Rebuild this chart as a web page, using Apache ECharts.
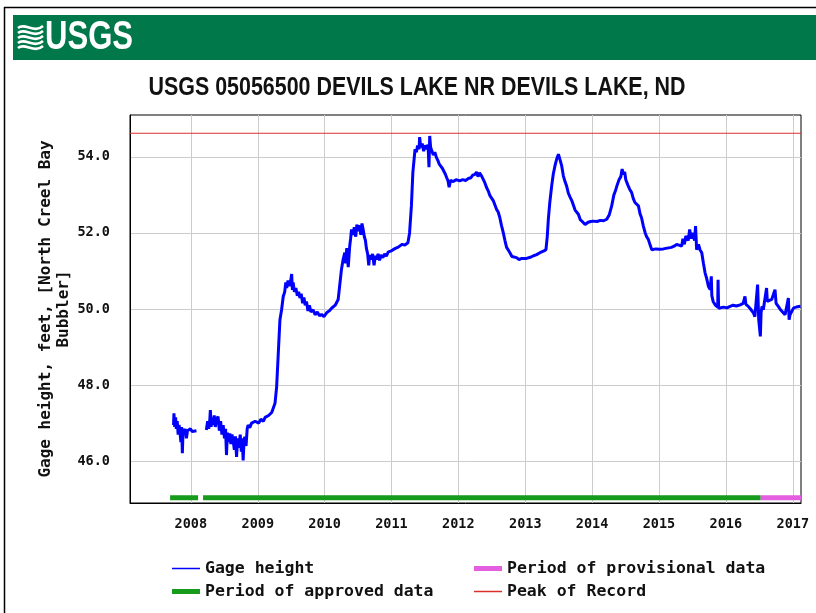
<!DOCTYPE html>
<html>
<head>
<meta charset="utf-8">
<title>USGS 05056500 Devils Lake</title>
<script src="https://cdn.jsdelivr.net/npm/echarts@6/dist/echarts.min.js"></script>
<style>
  html, body { margin: 0; padding: 0; background: #ffffff; }
  #chart { width: 816px; height: 613px; }
</style>
</head>
<body>
<div id="chart"></div>
<script>
// Gage height record, feet (null marks the gap in the record)
const gageDates = [
  '2007-09-29','2007-10-01','2007-10-05','2007-10-10','2007-10-14','2007-10-19','2007-10-24','2007-10-29',
  '2007-11-03','2007-11-08','2007-11-12','2007-11-16','2007-11-20','2007-11-26','2007-12-02','2007-12-08',
  '2007-12-14','2007-12-22','2007-12-30','2008-01-08','2008-01-18','2008-02-01','2008-02-15',
  '2008-03-26','2008-04-02','2008-04-08','2008-04-14','2008-04-17','2008-04-21','2008-04-26','2008-05-02',
  '2008-05-08','2008-05-14','2008-05-20','2008-05-29','2008-06-05','2008-06-12','2008-06-19','2008-06-26',
  '2008-07-03','2008-07-09','2008-07-14','2008-07-19','2008-07-25','2008-08-01','2008-08-07','2008-08-13',
  '2008-08-19','2008-08-26','2008-09-01','2008-09-07','2008-09-13','2008-09-20','2008-09-27','2008-10-03',
  '2008-10-08','2008-10-13','2008-10-18','2008-10-22','2008-10-29','2008-11-04','2008-11-09','2008-11-18',
  '2008-11-28','2008-12-08','2008-12-18','2008-12-26','2009-01-06','2009-01-18','2009-02-01','2009-02-10',
  '2009-02-19','2009-03-01','2009-03-10','2009-03-18','2009-03-27','2009-04-05','2009-04-14','2009-04-23',
  '2009-05-02','2009-05-11','2009-05-20','2009-05-28','2009-06-03','2009-06-08','2009-06-15','2009-06-22',
  '2009-06-29','2009-07-05','2009-07-09','2009-07-13','2009-07-20','2009-07-28','2009-08-05','2009-08-12',
  '2009-08-19','2009-08-26','2009-09-03','2009-09-10','2009-09-17','2009-09-24','2009-10-02','2009-10-10',
  '2009-10-18','2009-10-30','2009-11-10','2009-11-22','2009-12-04','2009-12-15','2009-12-28','2010-01-12',
  '2010-01-26','2010-02-08','2010-02-17','2010-02-28','2010-03-08','2010-03-16','2010-03-24','2010-04-03',
  '2010-04-12','2010-04-21','2010-04-26','2010-05-02','2010-05-10','2010-05-18','2010-05-23','2010-05-28',
  '2010-06-05','2010-06-12','2010-06-20','2010-06-26','2010-07-02','2010-07-10','2010-07-18','2010-07-24',
  '2010-07-30','2010-08-06','2010-08-12','2010-08-17','2010-08-24','2010-08-30','2010-09-04','2010-09-12',
  '2010-09-20','2010-09-28','2010-10-05','2010-10-11','2010-10-20','2010-10-28','2010-11-05','2010-11-15',
  '2010-11-25','2010-12-04','2010-12-15','2010-12-28','2011-01-10','2011-01-25','2011-02-05','2011-02-15',
  '2011-03-01','2011-03-15','2011-04-01','2011-04-10','2011-04-20','2011-04-28','2011-05-05','2011-05-10',
  '2011-05-17','2011-05-24','2011-06-01','2011-06-04','2011-06-10','2011-06-18','2011-06-26','2011-07-03',
  '2011-07-12','2011-07-20','2011-07-25','2011-07-29','2011-08-03','2011-08-10','2011-08-18','2011-08-26',
  '2011-09-04','2011-09-12','2011-09-20','2011-09-28','2011-10-06','2011-10-14','2011-10-22','2011-10-30',
  '2011-11-06','2011-11-12','2011-11-20','2011-12-05','2011-12-20','2012-01-09','2012-01-25','2012-02-10',
  '2012-02-25','2012-03-10','2012-03-20','2012-04-01','2012-04-10','2012-04-18','2012-04-26','2012-05-07',
  '2012-05-15','2012-05-25','2012-06-03','2012-06-13','2012-06-22','2012-07-01','2012-07-10','2012-07-19',
  '2012-07-28','2012-08-06','2012-08-15','2012-08-24','2012-09-03','2012-09-12','2012-09-21','2012-09-30',
  '2012-10-09','2012-10-20','2012-10-30','2012-11-14','2012-11-28','2012-12-12','2013-01-08','2013-01-28',
  '2013-02-15','2013-03-04','2013-03-22','2013-04-10','2013-04-24','2013-05-01','2013-05-07','2013-05-15',
  '2013-05-25','2013-06-03','2013-06-12','2013-06-22','2013-07-01','2013-07-10','2013-07-19','2013-07-28',
  '2013-08-06','2013-08-15','2013-08-24','2013-09-02','2013-09-12','2013-09-21','2013-09-30','2013-10-09',
  '2013-10-18','2013-10-28','2013-11-08','2013-11-24','2013-12-10','2013-12-25','2014-01-08','2014-01-28',
  '2014-02-15','2014-03-05','2014-03-22','2014-04-05','2014-04-18','2014-04-30','2014-05-08','2014-05-16',
  '2014-05-28','2014-06-07','2014-06-14','2014-06-21','2014-06-28','2014-07-04','2014-07-09','2014-07-16',
  '2014-07-25','2014-08-05','2014-08-14','2014-08-23','2014-09-01','2014-09-11','2014-09-20','2014-09-28',
  '2014-10-08','2014-10-18','2014-10-26','2014-11-04','2014-11-14','2014-11-23','2014-12-15','2015-01-05',
  '2015-01-25','2015-02-15','2015-03-10','2015-03-25','2015-04-08','2015-04-20','2015-05-05','2015-05-12',
  '2015-05-20','2015-05-28','2015-06-02','2015-06-10','2015-06-18','2015-06-26','2015-07-03','2015-07-08',
  '2015-07-15','2015-07-20','2015-07-26','2015-08-05','2015-08-14','2015-08-23','2015-09-01','2015-09-10',
  '2015-09-19','2015-09-28','2015-10-08','2015-10-14','2015-10-17','2015-10-24','2015-11-04','2015-11-18',
  '2015-11-20','2015-11-23','2015-12-02','2015-12-20','2016-01-07','2016-01-25','2016-02-10','2016-02-28',
  '2016-03-20','2016-04-05','2016-04-15','2016-04-20','2016-04-26','2016-05-03','2016-05-15','2016-06-01',
  '2016-06-08','2016-06-23','2016-06-29','2016-07-08','2016-07-12','2016-07-17','2016-07-24','2016-08-11',
  '2016-08-15','2016-09-08','2016-09-26','2016-10-02','2016-10-14','2016-10-26','2016-11-20','2016-12-08',
  '2016-12-12','2016-12-17','2017-01-06','2017-01-20','2017-02-12'
];
const gageHeights = [
  46.95,47.26,46.90,47.15,46.85,47.05,46.70,46.95,
  46.75,46.50,46.90,46.21,46.85,46.70,46.85,46.60,
  46.80,46.75,46.85,46.78,46.82,46.80,null,
  46.82,47.05,46.85,47.10,47.34,46.90,47.15,46.95,
  47.20,46.90,47.10,47.17,46.80,47.05,46.70,46.95,
  46.60,46.85,46.16,46.75,46.50,46.73,46.45,46.70,
  46.55,46.30,46.65,46.11,46.60,46.35,46.70,46.25,
  46.60,46.02,46.55,46.64,46.40,46.85,46.95,46.88,
  47.00,46.95,47.05,47.03,47.00,47.10,47.05,47.15,
  47.12,47.20,47.15,47.28,47.26,47.52,47.96,48.84,
  49.72,49.98,50.33,50.45,50.70,50.55,50.75,50.60,
  50.72,50.92,50.50,50.70,50.45,50.55,50.35,50.45,
  50.29,50.40,50.15,50.30,50.10,50.20,49.95,50.10,
  49.92,49.98,49.85,49.92,49.82,49.86,49.80,49.90,
  49.95,50.02,50.05,50.10,50.15,50.25,50.60,51.04,
  51.30,51.48,51.20,51.60,51.10,51.65,51.85,52.09,
  51.95,52.15,51.90,52.22,52.05,52.20,51.95,52.25,
  52.10,51.90,51.80,51.60,51.45,51.15,51.42,51.30,
  51.45,51.15,51.40,51.30,51.45,51.28,51.42,51.35,
  51.45,51.39,51.50,51.52,51.56,51.60,51.62,51.65,
  51.70,51.68,51.74,52.00,52.71,53.59,53.95,54.20,
  54.12,54.30,54.20,54.52,54.25,54.35,54.15,54.30,
  54.20,54.32,53.73,54.55,54.25,54.15,54.05,54.12,
  53.98,53.90,53.80,53.85,53.70,53.65,53.55,53.45,
  53.37,53.20,53.38,53.35,53.40,53.37,53.40,53.38,
  53.43,53.45,53.52,53.54,53.60,53.48,53.58,53.50,
  53.42,53.32,53.20,53.10,52.98,52.95,52.85,52.80,
  52.62,52.55,52.40,52.20,52.00,51.80,51.62,51.55,
  51.48,51.38,51.42,51.35,51.30,51.33,51.33,51.36,
  51.40,51.43,51.48,51.52,51.56,51.90,52.36,52.80,
  53.23,53.55,53.76,53.95,54.07,53.92,53.76,53.50,
  53.35,53.23,53.05,52.95,52.85,52.80,52.60,52.55,
  52.49,52.35,52.30,52.22,52.28,52.30,52.31,52.30,
  52.33,52.32,52.36,52.48,52.71,53.00,53.10,53.23,
  53.40,53.48,53.68,53.54,53.60,53.40,53.41,53.25,
  53.15,53.06,52.90,52.80,52.78,52.71,52.50,52.40,
  52.18,52.00,51.90,51.83,51.68,51.56,51.58,51.57,
  51.58,51.60,51.62,51.65,51.70,51.68,51.65,51.85,
  51.70,51.92,51.96,51.80,52.09,51.85,52.00,51.96,
  51.80,52.18,51.56,51.70,51.55,51.48,51.20,50.95,
  50.80,50.60,50.51,50.86,50.35,50.20,50.11,50.05,
  50.77,50.02,49.98,50.05,50.03,50.07,50.10,50.08,
  50.11,50.15,50.33,50.12,50.16,50.07,50.00,49.89,
  49.80,50.64,49.72,49.28,49.90,50.07,49.98,50.55,
  50.20,50.25,50.51,50.15,50.07,49.98,49.85,50.29,
  49.72,49.85,50.03,50.05,50.07
];

// Data-status periods shown along the bottom of the plot
const approvedPeriods = [['2007-09-10', '2008-02-10'], ['2008-03-08', '2016-07-10']];
const provisionalPeriods = [['2016-07-10', '2017-02-15']];

// Peak of record, feet
const peakOfRecord = 54.62;

// Axis extent and tick labels
const axisStart = '2007-02-03';
const axisEnd = '2017-02-15';
const yearTicks = [2008, 2009, 2010, 2011, 2012, 2013, 2014, 2015, 2016, 2017];
const heightTicks = [46, 48, 50, 52, 54];

const t = d => Date.parse(d + 'T00:00:00Z');
const xMin = t(axisStart);
const xMax = t(axisEnd);
const yMin = 44.9;
const yMax = 55.1;
const periodLevel = 45.04;

const gageData = gageDates.map((d, i) => [t(d), gageHeights[i]]);
function periodData(periods) {
  const out = [];
  periods.forEach((p, i) => {
    if (i > 0) out.push([t(p[0]) - 86400000, null]);
    out.push([t(p[0]), periodLevel], [t(p[1]), periodLevel]);
  });
  return out;
}
const yearValues = yearTicks.map(y => Date.UTC(y, 0, 1));

const MONO = '"DejaVu Sans Mono", "Liberation Mono", monospace';
const TITLE_FONT = 'bold 26px "Liberation Sans", Arial, sans-serif';
const LOGO_FONT = 'bold 40px "Liberation Sans", Arial, sans-serif';
const TITLE_TEXT = 'USGS 05056500 DEVILS LAKE NR DEVILS LAKE, ND';

// Horizontal squeeze so the bold sans reads like a condensed face
function squeeze(text, font, targetWidth) {
  const ctx = document.createElement('canvas').getContext('2d');
  ctx.font = font;
  return targetWidth / ctx.measureText(text).width;
}

const chart = echarts.init(document.getElementById('chart'), null, { renderer: 'canvas' });

// Small wave emblem drawn beside the wordmark
function wave(y0) {
  return {
    type: 'bezierCurve',
    shape: { x1: 18, y1: y0, cpx1: 25, cpy1: y0 - 6, cpx2: 34, cpy2: y0 + 6, x2: 43, y2: y0 - 2 },
    style: { stroke: '#ffffff', lineWidth: 2.6, fill: null }
  };
}

// One legend block per entry: thin swatch for lines, thick swatch for periods
const legendText = { fontFamily: MONO, fontWeight: 'bold', fontSize: 16.5, color: '#111111', padding: [0, 0, 0, 0] };
function legendEntry(name, left, top, swatchHeight) {
  return {
    left: left, top: top, padding: 0, itemWidth: 28, itemHeight: swatchHeight, itemGap: 0,
    icon: 'rect', textStyle: legendText, selectedMode: false,
    data: [{ name: name }]
  };
}

chart.setOption({
  animation: false,
  backgroundColor: '#ffffff',
  grid: { left: 130, top: 115, right: 15, bottom: 110, show: true, borderColor: '#000000', borderWidth: 1, backgroundColor: '#ffffff' },
  graphic: [
    { type: 'line', shape: { x1: 4, y1: 7.5, x2: 816, y2: 7.5 }, style: { stroke: '#000000', lineWidth: 1.5 } },
    { type: 'line', shape: { x1: 4.5, y1: 7, x2: 4.5, y2: 613 }, style: { stroke: '#000000', lineWidth: 1.5 } },
    { type: 'rect', shape: { x: 13, y: 15, width: 803, height: 45 }, style: { fill: '#00784a' } },
    {
      type: 'group',
      children: [wave(28), wave(33), wave(38), wave(43), wave(48)]
    },
    {
      type: 'text', x: 45, y: 38, scaleX: squeeze('USGS', LOGO_FONT, 88),
      style: { text: 'USGS', fill: '#ffffff', font: LOGO_FONT, textVerticalAlign: 'middle', textAlign: 'left' }
    },
    {
      type: 'text', x: 417, y: 88, scaleX: squeeze(TITLE_TEXT, TITLE_FONT, 537),
      style: { text: TITLE_TEXT, fill: '#111111', font: TITLE_FONT, textAlign: 'center', textVerticalAlign: 'middle' }
    }
  ],
  legend: [
    legendEntry('Gage height', 172, 560, 1.5),
    legendEntry('Period of approved data', 172, 583, 5),
    legendEntry('Period of provisional data', 474, 560, 5),
    legendEntry('Peak of Record', 474, 583, 1.5)
  ],
  xAxis: {
    type: 'value', min: xMin, max: xMax,
    axisLine: { show: true, lineStyle: { color: '#000000' } },
    axisTick: { show: false, customValues: yearValues },
    splitLine: { show: true, lineStyle: { color: '#cccccc', width: 1 } },
    axisLabel: {
      customValues: yearValues, margin: 14,
      fontFamily: MONO, fontWeight: 'bold', fontSize: 13.5, color: '#111111',
      formatter: v => String(new Date(v).getUTCFullYear())
    }
  },
  yAxis: {
    type: 'value', min: yMin, max: yMax,
    name: 'Gage height, feet, [North Creel Bay\nBubbler]',
    nameLocation: 'middle', nameRotate: 90, nameGap: 57, nameMoveOverlap: false,
    nameTextStyle: { fontFamily: MONO, fontWeight: 'bold', fontSize: 16, color: '#111111', lineHeight: 18, align: 'center' },
    axisLine: { show: true, lineStyle: { color: '#000000' } },
    axisTick: { show: false, customValues: heightTicks },
    splitLine: { show: true, lineStyle: { color: '#cccccc', width: 1 } },
    axisLabel: {
      customValues: heightTicks, margin: 20,
      fontFamily: MONO, fontWeight: 'bold', fontSize: 13.5, color: '#111111',
      formatter: v => v.toFixed(1)
    }
  },
  series: [
    {
      name: 'Peak of Record', type: 'line', symbol: 'none', silent: true,
      data: [[xMin, peakOfRecord], [xMax, peakOfRecord]],
      lineStyle: { color: '#d9302c', width: 1 }, itemStyle: { color: '#d9302c' }, z: 2
    },
    {
      name: 'Period of approved data', type: 'line', symbol: 'none', silent: true,
      data: periodData(approvedPeriods), connectNulls: false,
      lineStyle: { color: '#169b1c', width: 5, cap: 'butt' }, itemStyle: { color: '#169b1c' }, z: 3
    },
    {
      name: 'Period of provisional data', type: 'line', symbol: 'none', silent: true,
      data: periodData(provisionalPeriods),
      lineStyle: { color: '#e45ee0', width: 5, cap: 'butt' }, itemStyle: { color: '#e45ee0' }, z: 3
    },
    {
      name: 'Gage height', type: 'line', symbol: 'none', silent: true,
      data: gageData, connectNulls: false,
      lineStyle: { color: '#0000ff', width: 3 }, itemStyle: { color: '#0000ff' }, z: 4
    }
  ]
});
</script>
</body>
</html>
